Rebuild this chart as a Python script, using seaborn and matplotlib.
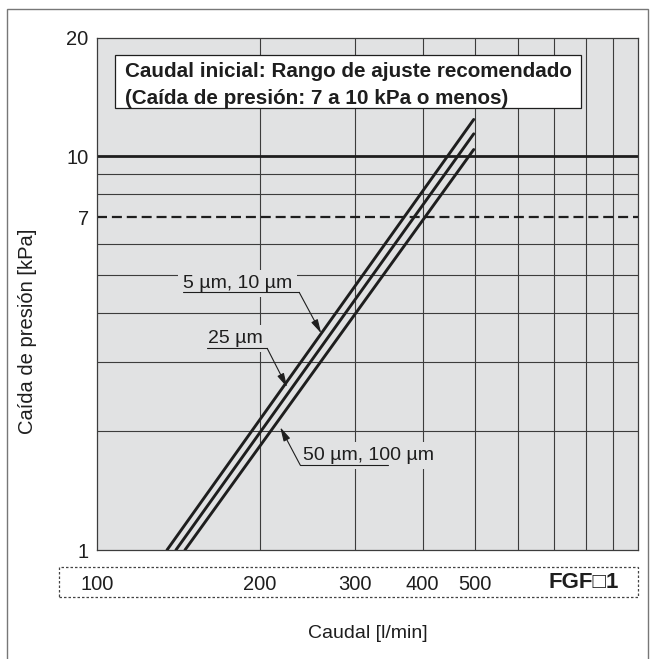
import numpy as np
import pandas as pd
import matplotlib
matplotlib.use("Agg")
import matplotlib.pyplot as plt
import seaborn as sns
from matplotlib.patches import Rectangle
from matplotlib.ticker import NullLocator, FixedLocator, FixedFormatter

# ── values ──────────────────────────────────────────────────────────────────
series_labels = ["5 µm, 10 µm", "25 µm", "50 µm, 100 µm"]
flow_5_10 = [134.7, 497.0]
dp_5_10 = [1.0, 12.4]
flow_25 = [139.9, 497.0]
dp_25 = [1.0, 11.4]
flow_50_100 = [145.4, 497.0]
dp_50_100 = [1.0, 10.4]

x_ticks = [100, 200, 300, 400, 500]
y_ticks = [1, 7, 10, 20]
grid_x = [200, 300, 400, 500, 600, 700, 800, 900]
grid_y = [2, 3, 4, 5, 6, 8, 9]
limit_low = 7
limit_high = 10
model_code = "FGF□1"
note = "Caudal inicial: Rango de ajuste recomendado\n(Caída de presión: 7 a 10 kPa o menos)"

df = pd.DataFrame({
    "filtro": [series_labels[0]] * 2 + [series_labels[1]] * 2 + [series_labels[2]] * 2,
    "caudal": flow_5_10 + flow_25 + flow_50_100,
    "caida": dp_5_10 + dp_25 + dp_50_100,
})

# ── style ──────────────────────────────────────────────────────────────────
BG = "#e1e2e3"
INK = "#1e1e1e"
GRID = "#3c3c3c"
sns.set_theme(style="ticks")
plt.rcParams["font.family"] = ["Liberation Sans", "DejaVu Sans"]
plt.rcParams["text.color"] = INK

W, H = 655, 659
fig = plt.figure(figsize=(W / 100, H / 100), dpi=100)
fig.patch.set_facecolor("white")
ax = fig.add_axes([97 / W, 1 - 550 / H, (638 - 97) / W, (550 - 37.7) / H])
ax.set_facecolor(BG)

ax.set_xscale("log"); ax.set_yscale("log")
ax.set_xlim(100, 1000); ax.set_ylim(1, 20)

for gx in grid_x:
    ax.axvline(gx, color=GRID, lw=0.8, zorder=1)
for gy in grid_y:
    ax.axhline(gy, color=GRID, lw=0.8, zorder=1)
ax.axhline(limit_high, color=INK, lw=2.0, zorder=1.5)
ax.axhline(limit_low, color=INK, lw=1.6, ls=(0, (4.5, 2.2)), zorder=1.5)

sns.lineplot(data=df, x="caudal", y="caida", hue="filtro",
             palette=[INK] * 3, legend=False, lw=2.1, ax=ax, zorder=3)

# ticks
ax.xaxis.set_minor_locator(NullLocator()); ax.yaxis.set_minor_locator(NullLocator())
ax.xaxis.set_major_locator(FixedLocator(x_ticks))
ax.xaxis.set_major_formatter(FixedFormatter([str(v) for v in x_ticks]))
ax.yaxis.set_major_locator(FixedLocator(y_ticks))
ax.yaxis.set_major_formatter(FixedFormatter([str(v) for v in y_ticks]))
ax.tick_params(axis="x", length=0, pad=18, labelsize=14.5, colors=INK)
ax.tick_params(axis="y", length=0, pad=6, labelsize=14.5, colors=INK)
ax.set_xlabel(""); ax.set_ylabel("")
for s in ax.spines.values():
    s.set_color(GRID); s.set_linewidth(0.9)

# recommended range note (white box drawn separately for exact padding)
fig.add_artist(Rectangle((115 / W, 1 - 108 / H), (581 - 115) / W, 53 / H,
                         transform=fig.transFigure, fc="white", ec=INK, lw=0.9))
fig.text(125 / W, 1 - 85 / H, note, fontsize=14.9, fontweight="bold",
         linespacing=1.5, va="center", ha="left")

# leader labels (text anchor, underline, arrow tip)
labels = [
    (series_labels[0], (144.3, 4.62), (144.3, 236.5, 4.51), (259.7, 3.55)),
    (series_labels[1], (160.6, 3.35), (159.9, 206.4, 3.25), (224.6, 2.59)),
    (series_labels[2], (240.5, 1.69), (237.5, 345.2, 1.643), (218.1, 2.05)),
]
for i, (txt, tpos, uline, tip) in enumerate(labels):
    ax.text(*tpos, txt, fontsize=14, ha="left", va="baseline", zorder=2,
            bbox=dict(boxstyle="square,pad=0.25", fc=BG, ec="none"))
    ax.plot([uline[0], uline[1]], [uline[2], uline[2]], color=INK, lw=0.8, zorder=4)
    corner = (uline[1], uline[2]) if i < 2 else (uline[0], uline[2])
    ax.annotate("", xy=tip, xytext=corner, zorder=4,
                arrowprops=dict(arrowstyle="-|>,head_length=0.7,head_width=0.18",
                                color=INK, lw=0.8, shrinkA=0, shrinkB=0))

# bottom dashed box, model code, axis titles
fig.add_artist(Rectangle((59 / W, 1 - 597 / H), (638 - 59) / W, 30 / H,
                         transform=fig.transFigure, fill=False, ec="#444444",
                         lw=0.9, ls=(0, (2, 1.6))))
fig.text(619 / W, 1 - 583 / H, model_code, fontsize=16, fontweight="bold",
         ha="right", va="center")
fig.text(367.5 / W, 1 - 633 / H, "Caudal [l/min]", fontsize=14, ha="center", va="center")
fig.text(28 / W, 1 - 331 / H, "Caída de presión [kPa]", fontsize=14.5,
         rotation=90, ha="center", va="center")

# outer frame
fig.add_artist(Rectangle((7 / W, -0.05), (648 - 7) / W, 1.05 - 9 / H,
                         transform=fig.transFigure, fill=False, ec="#777777", lw=1.0))

fig.savefig("out.png", dpi=100)
